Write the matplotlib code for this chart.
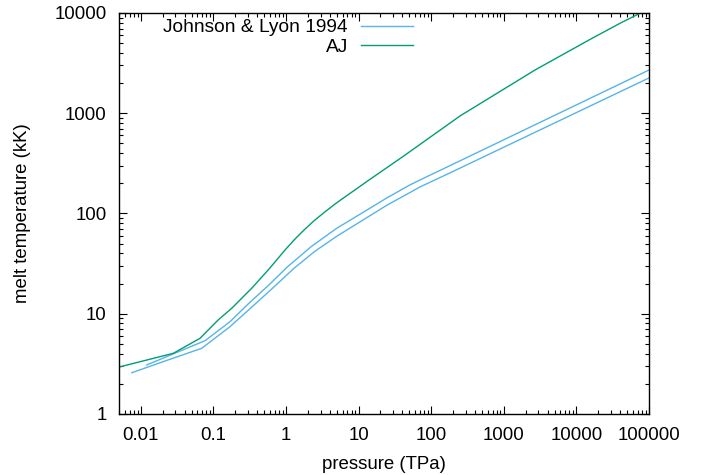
import matplotlib
matplotlib.use("Agg")
import matplotlib.pyplot as plt
from matplotlib.ticker import FixedLocator, FixedFormatter, LogLocator, NullFormatter

plt.rcParams['font.family'] = ['Liberation Sans', 'DejaVu Sans']
FS = 13.4

# Johnson & Lyon 1994 (upper / lower curves)
jl_hi_p = [0.012, 0.0766, 0.169, 0.30, 0.60, 1.02, 2.2, 5.03, 6.9, 24.5, 51, 70, 181, 100000]
jl_hi_T = [3.08, 5.39, 8.33, 12.5, 19.8, 28.9, 46.5, 71.5, 82, 143, 193, 216, 300, 2700]

jl_lo_p = [0.0075, 0.0237, 0.0689, 0.169, 0.30, 0.60, 1.3, 2.5, 5.03, 6.9, 24.5, 51, 70, 181, 100000]
jl_lo_T = [2.58, 3.46, 4.52, 7.43, 10.8, 17.0, 28.6, 42, 59.5, 68.5, 121, 162, 184, 254, 2250]

# AJ
aj_p = [0.005, 0.028, 0.0653, 0.116, 0.18, 0.34, 0.60, 0.97, 1.3, 1.71, 2.4, 3.5, 5.03, 14.3,
        40.8, 106, 249, 2690, 15400, 39800, 75000, 100000]
aj_T = [2.94, 4.03, 5.69, 8.66, 11.4, 18.1, 28.6, 43.3, 54.7, 66.8, 84, 105, 128.5, 219,
        370, 605, 939, 2700, 5450, 7890, 9930, 11000]

x_ticks = [0.01, 0.1, 1, 10, 100, 1000, 10000, 100000]
x_labels = ['0.01', '0.1', '1', '10', '100', '1000', '10000', '100000']
y_ticks = [1, 10, 100, 1000, 10000]
y_labels = ['1', '10', '100', '1000', '10000']

blue = '#56b4e9'
green = '#009e73'

fig = plt.figure(figsize=(7.06, 4.75), dpi=100)
ax = fig.add_axes([119/706, 1 - 414/475, (649-119)/706, (414-13)/475])

ax.plot(jl_hi_p, jl_hi_T, color=blue, lw=1.0, label='Johnson & Lyon 1994')
ax.plot(jl_lo_p, jl_lo_T, color=blue, lw=1.0)
ax.plot(aj_p, aj_T, color=green, lw=1.0, label='AJ')

ax.set_xscale('log')
ax.set_yscale('log')
ax.set_xlim(0.005, 100000)
ax.set_ylim(1, 10000)

ax.xaxis.set_major_locator(FixedLocator(x_ticks))
ax.xaxis.set_major_formatter(FixedFormatter(x_labels))
ax.yaxis.set_major_locator(FixedLocator(y_ticks))
ax.yaxis.set_major_formatter(FixedFormatter(y_labels))
ax.xaxis.set_minor_locator(LogLocator(base=10, subs=range(2, 10), numticks=50))
ax.yaxis.set_minor_locator(LogLocator(base=10, subs=range(2, 10), numticks=50))
ax.xaxis.set_minor_formatter(NullFormatter())
ax.yaxis.set_minor_formatter(NullFormatter())

ax.tick_params(which='both', direction='in', top=True, right=True, width=0.8, color='black')
ax.tick_params(which='major', length=6, labelsize=FS)
ax.tick_params(which='minor', length=3)
ax.tick_params(axis='x', which='major', pad=9)
ax.tick_params(axis='y', which='major', pad=9)
for s in ax.spines.values():
    s.set_linewidth(1.0)

ax.set_xlabel('pressure (TPa)', fontsize=FS, labelpad=9)
ax.set_ylabel('melt temperature (kK)', fontsize=FS, labelpad=16.5)

leg = ax.legend(loc='upper right', bbox_to_anchor=(413/706, 1 - 19/475),
                bbox_transform=fig.transFigure, frameon=False, markerfirst=False,
                fontsize=13.8, handlelength=2.7, handletextpad=0.7,
                borderpad=0, borderaxespad=0, labelspacing=0.12)

fig.savefig('out.png', dpi=100)
